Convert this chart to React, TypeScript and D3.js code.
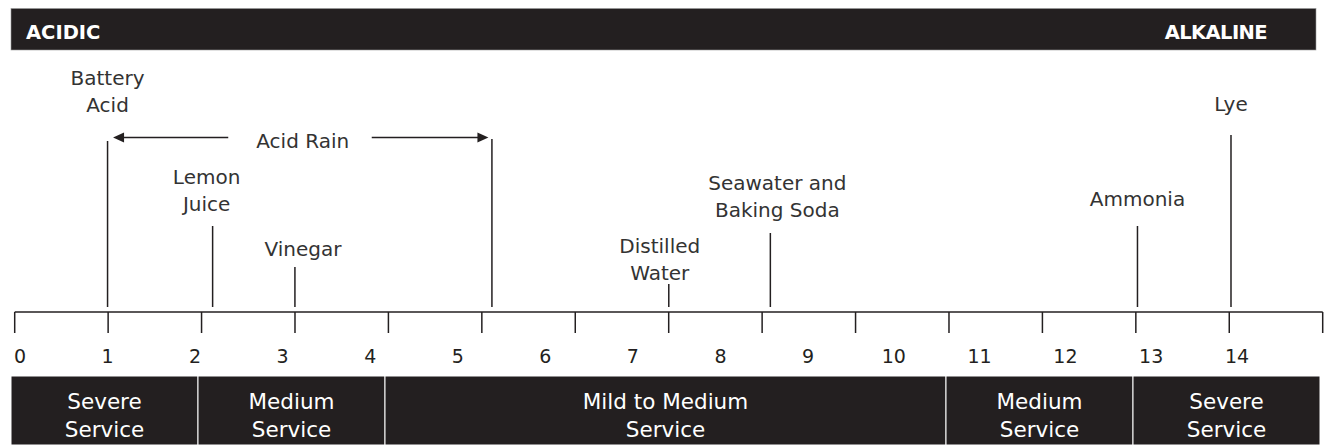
import { useEffect, useRef } from 'react';
import * as d3 from 'd3';

// pH tick labels along the ruler
const tickValues = d3.range(0, 15);
const tickLabels = tickValues.map(String);

// Substances and their pH
const substanceNames = ['Battery Acid', 'Lemon Juice', 'Vinegar', 'Distilled Water', 'Seawater and Baking Soda', 'Ammonia', 'Lye'];
const substanceLines = [['Battery', 'Acid'], ['Lemon', 'Juice'], ['Vinegar'], ['Distilled', 'Water'], ['Seawater and', 'Baking Soda'], ['Ammonia'], ['Lye']];
const substancePH = [1.0, 2.2, 3.14, 7.41, 8.57, 12.84, 13.93];

// Acid rain range
const acidRainRange = [1.0, 5.39];

// Service bands along the ruler
const bandNames = [['Severe', 'Service'], ['Medium', 'Service'], ['Mild to Medium', 'Service'], ['Medium', 'Service'], ['Severe', 'Service']];
const bandStart = [0, 2, 4, 10, 12];
const bandEnd = [2, 4, 10, 12, 14];

const W = 1325;
const H = 445;
const ink = '#231f20';
const font = '"DejaVu Sans", sans-serif';

export default function App() {
  const svgRef = useRef<SVGSVGElement>(null);

  useEffect(() => {
    if (!svgRef.current) return;
    const svg = d3.select(svgRef.current);
    svg.selectAll('*').remove();

    // ruler divisions (tick marks) and pH label positions are not quite the same in the original
    const ruler = d3.scaleLinear().domain([0, 14]).range([14.7, 1322.7]);
    const ph = d3.scaleLinear().domain([0, 9, 14]).range([20, 808, 1237]);
    const band = d3.scaleLinear().domain([0, 14]).range([11, 1320]);

    const axisY = 312;
    const lineBottom = 307;

    // header bar
    svg.append('rect')
      .attr('x', 11).attr('y', 8.5)
      .attr('width', 1305).attr('height', 41.5)
      .attr('fill', ink)
      .attr('stroke', '#999').attr('stroke-width', 0.6);

    svg.append('text')
      .attr('x', 26).attr('y', 39)
      .attr('fill', '#fff')
      .attr('font-family', font)
      .attr('font-weight', 700)
      .attr('font-size', 19.5)
      .text('ACIDIC');

    svg.append('text')
      .attr('x', 1267).attr('y', 39)
      .attr('text-anchor', 'end')
      .attr('fill', '#fff')
      .attr('font-family', font)
      .attr('font-weight', 700)
      .attr('font-size', 19.5)
      .attr('letter-spacing', -0.6)
      .text('ALKALINE');

    // ruler
    svg.append('line')
      .attr('x1', ruler(0)).attr('x2', ruler(14))
      .attr('y1', axisY).attr('y2', axisY)
      .attr('stroke', ink).attr('stroke-width', 1.5);

    svg.selectAll('.tick')
      .data(tickValues)
      .join('line')
      .attr('class', 'tick')
      .attr('x1', d => ruler(d)).attr('x2', d => ruler(d))
      .attr('y1', axisY).attr('y2', 333)
      .attr('stroke', ink).attr('stroke-width', 1.5);

    svg.selectAll('.tick-label')
      .data(tickValues)
      .join('text')
      .attr('class', 'tick-label')
      .attr('x', d => ph(d))
      .attr('y', 362.5)
      .attr('text-anchor', 'middle')
      .attr('fill', ink)
      .attr('font-family', font)
      .attr('font-size', 19)
      .text((d, i) => tickLabels[i]);

    // layout of each callout: label baseline of first line, top of the leader line, label nudge
    const layout = [
      { y: 85, top: 141, dx: 0 },
      { y: 184, top: 226, dx: -6 },
      { y: 256, top: 267, dx: 8 },
      { y: 253, top: 284, dx: -9 },
      { y: 190, top: 233, dx: 7 },
      { y: 206, top: 226, dx: 0 },
      { y: 111, top: 135, dx: 0 },
    ];

    substanceNames.forEach((name, i) => {
      const x = ph(substancePH[i]);
      const l = layout[i];
      svg.append('line')
        .attr('x1', x).attr('x2', x)
        .attr('y1', l.top).attr('y2', lineBottom)
        .attr('stroke', ink).attr('stroke-width', 1.5);

      const t = svg.append('text')
        .attr('text-anchor', 'middle')
        .attr('fill', '#333')
        .attr('font-family', font)
        .attr('font-size', 20)
        .attr('aria-label', name);
      substanceLines[i].forEach((s, j) => {
        t.append('tspan')
          .attr('x', x + l.dx)
          .attr('y', l.y + j * 26.5)
          .text(s);
      });
    });

    // acid rain range arrow
    const x0 = ph(acidRainRange[0]);
    const x1 = ph(acidRainRange[1]);
    const mid = (x0 + x1) / 2;
    const ay = 137.5;
    svg.append('line')
      .attr('x1', x1).attr('x2', x1)
      .attr('y1', 139).attr('y2', lineBottom)
      .attr('stroke', ink).attr('stroke-width', 1.5);

    const leftTip = x0 + 5.5;
    const rightTip = x1 - 3.5;
    svg.append('line')
      .attr('x1', leftTip + 8).attr('x2', mid - 71.5)
      .attr('y1', ay).attr('y2', ay)
      .attr('stroke', ink).attr('stroke-width', 1.5);
    svg.append('line')
      .attr('x1', mid + 72).attr('x2', rightTip - 8)
      .attr('y1', ay).attr('y2', ay)
      .attr('stroke', ink).attr('stroke-width', 1.5);
    svg.append('path')
      .attr('d', `M${leftTip},${ay} L${leftTip + 11},${ay - 5} L${leftTip + 11},${ay + 5} Z`)
      .attr('fill', ink);
    svg.append('path')
      .attr('d', `M${rightTip},${ay} L${rightTip - 11},${ay - 5} L${rightTip - 11},${ay + 5} Z`)
      .attr('fill', ink);
    svg.append('text')
      .attr('x', mid + 3).attr('y', 148)
      .attr('text-anchor', 'middle')
      .attr('fill', '#333')
      .attr('font-family', font)
      .attr('font-size', 20)
      .text('Acid Rain');

    // service bands
    const bands = svg.selectAll('.band')
      .data(bandNames)
      .join('g')
      .attr('class', 'band');

    bands.append('rect')
      .attr('x', (d, i) => band(bandStart[i]))
      .attr('y', 376)
      .attr('width', (d, i) => band(bandEnd[i]) - band(bandStart[i]))
      .attr('height', H - 376)
      .attr('fill', ink)
      .attr('stroke', '#fff')
      .attr('stroke-width', 1);

    bands.append('text')
      .attr('text-anchor', 'middle')
      .attr('fill', '#fff')
      .attr('font-family', font)
      .attr('font-size', 21.5)
      .selectAll('tspan')
      .data((d, i) => d.map(s => ({ s, i })))
      .join('tspan')
      .attr('x', d => (band(bandStart[d.i]) + band(bandEnd[d.i])) / 2)
      .attr('y', (d, j) => 408.5 + j * 28.3)
      .text(d => d.s);
  }, []);

  return (
    <svg
      ref={svgRef}
      width={W}
      height={H}
      style={{ position: 'absolute', left: 0, top: 0, background: '#fff' }}
    />
  );
}
